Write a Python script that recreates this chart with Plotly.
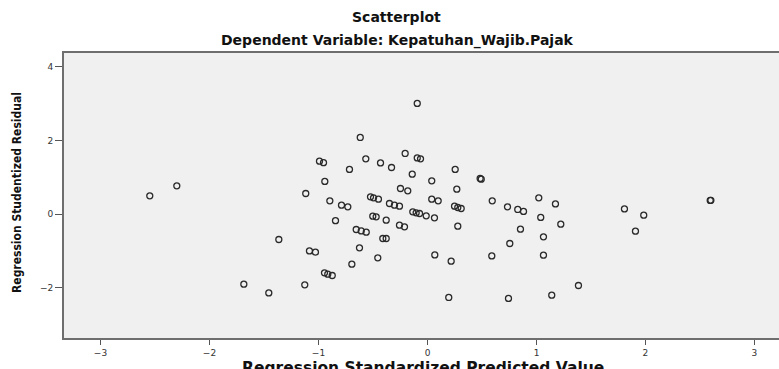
import plotly.graph_objects as go

# Regression Standardized Predicted Value
pred = [-2.548, -2.300, -1.117, -0.991, -0.954, -1.364, -1.083, -1.028, -1.685, -1.456,
        -1.126, -0.094, -0.617, -0.566, -0.431, -0.330, -0.716, -0.205, -0.094, -0.064,
        -0.140, 0.254, 0.039, -0.942, 0.483, 0.493, -0.248, -0.181, 0.269, -0.896,
        -0.789, -0.731, -0.523, -0.495, -0.450, 0.039, 0.098, 0.594, 0.734, -0.349,
        -0.303, -0.257, 0.248, 0.278, 0.309, -0.135, -0.104, -0.073, -0.012, 0.064,
        -0.502, -0.471, -0.379, -0.844, 0.278, -0.654, -0.608, -0.562, -0.257, -0.211,
        -0.410, -0.379, -0.624, -0.456, 0.067, 0.217, 0.590, -0.694, -0.945, -0.915,
        -0.874, 0.195, 0.743, 0.828, 0.881, 1.021, 1.174, 1.039, 1.223, 0.853,
        1.064, 0.755, 1.064, 1.385, 1.140, 1.807, 1.984, 1.908, 2.594, 2.600]

# Regression Studentized Residual
resid = [0.495, 0.767, 0.560, 1.439, 1.398, -0.691, -1.001, -1.036, -1.906, -2.143,
         -1.925, 3.008, 2.083, 1.501, 1.392, 1.267, 1.213, 1.648, 1.528, 1.501,
         1.085, 1.213, 0.903, 0.887, 0.968, 0.949, 0.696, 0.631, 0.677, 0.359,
         0.242, 0.196, 0.468, 0.441, 0.405, 0.405, 0.359, 0.359, 0.196, 0.288,
         0.242, 0.215, 0.215, 0.179, 0.152, 0.060, 0.033, 0.016, -0.049, -0.103,
         -0.057, -0.076, -0.166, -0.179, -0.329, -0.419, -0.457, -0.492, -0.302, -0.348,
         -0.664, -0.664, -0.919, -1.191, -1.110, -1.281, -1.137, -1.363, -1.599, -1.634,
         -1.670, -2.268, -2.293, 0.125, 0.071, 0.441, 0.277, -0.092, -0.275, -0.411,
         -0.620, -0.800, -1.118, -1.942, -2.206, 0.141, -0.030, -0.465, 0.370, 0.375]

x_ticks = [-3, -2, -1, 0, 1, 2, 3]
y_ticks = [-2, 0, 2, 4]

title_main = "Scatterplot"
title_sub = "Dependent Variable: Kepatuhan_Wajib.Pajak"
x_title = "Regression Standardized Predicted Value"
y_title = "Regression Studentized Residual"

FONT = "Liberation Sans, Arial, sans-serif"
WIDE = "DejaVu Sans, Liberation Sans, sans-serif"
NARROW = "Liberation Sans Narrow, DejaVu Sans Condensed, Liberation Sans, sans-serif"

fig = go.Figure()
fig.add_trace(go.Scatter(
    x=pred, y=resid, mode="markers",
    marker=dict(symbol="circle-open", size=6, color="#2a2a2a",
                line=dict(width=1.3, color="#2a2a2a")),
    hoverinfo="skip", showlegend=False,
))

axis_common = dict(
    showgrid=False, zeroline=False, showline=True, linecolor="#6e6e6e", linewidth=2,
    ticks="outside", tickcolor="#555555", tickwidth=1,
    tickfont=dict(family=WIDE, size=9, color="#333333"),
)

fig.update_layout(
    width=779, height=369,
    margin=dict(l=64, r=0, t=53, b=31, pad=0),
    paper_bgcolor="white", plot_bgcolor="#f0f0f0",
    xaxis=dict(range=[-3.335, 3.225], tickvals=x_ticks, ticklen=5, mirror=True, **axis_common),
    yaxis=dict(range=[-3.37, 4.38], tickvals=y_ticks, ticklen=7, mirror=False, **axis_common),
    font=dict(family=FONT),
    annotations=[
        dict(text="<b>" + title_main + "</b>", xref="paper", yref="paper",
             x=(396 - 64) / 715, y=1 + (53 - 17) / 285, xanchor="center", yanchor="middle",
             showarrow=False, font=dict(family=WIDE, size=14, color="#111111")),
        dict(text="<b>" + title_sub + "</b>", xref="paper", yref="paper",
             x=(397 - 64) / 715, y=1 + (53 - 40) / 285, xanchor="center", yanchor="middle",
             showarrow=False, font=dict(family=WIDE, size=14, color="#111111")),
        dict(text="<b>" + y_title + "</b>", xref="paper", yref="paper",
             x=(17 - 64) / 715, y=(338 - 193) / 285, xanchor="center", yanchor="middle",
             textangle=-90, showarrow=False,
             font=dict(family=NARROW, size=12, color="#111111")),
        dict(text="<b>" + x_title + "</b>", xref="paper", yref="paper",
             x=(423 - 64) / 715, y=-(357 - 338) / 285, xanchor="center", yanchor="top",
             showarrow=False, font=dict(family=WIDE, size=15.5, color="#111111")),
    ],
)

fig.write_html(
    "out.html",
    config={"displayModeBar": False, "staticPlot": True},
    post_script="document.body.style.margin='0';document.body.style.overflow='hidden';",
)
